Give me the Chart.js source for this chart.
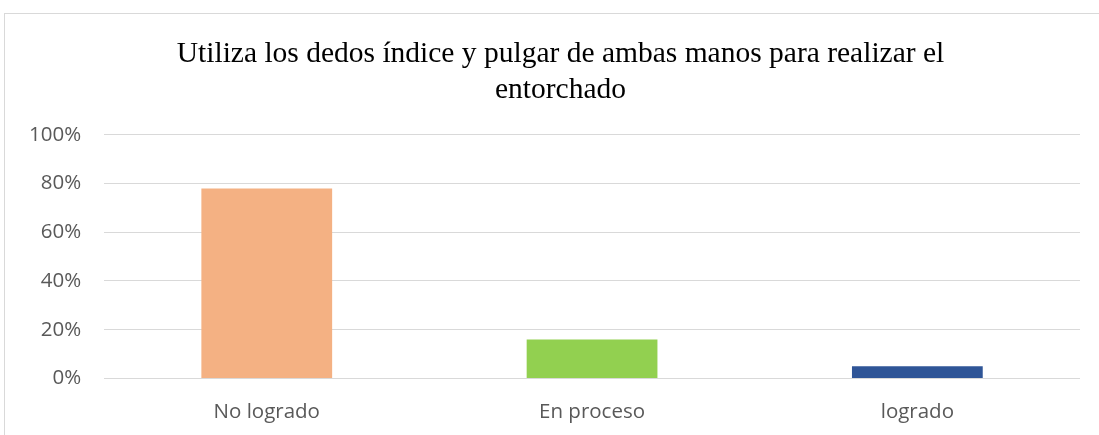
<!DOCTYPE html>
<html>
<head>
<meta charset="utf-8">
<script src="https://cdn.jsdelivr.net/npm/chart.js@4.4.0/dist/chart.umd.min.js"></script>
<style>
  body { margin: 0; background: #fff; overflow: hidden; width: 1099px; height: 435px; }
  .frame { position: absolute; left: 4px; top: 13px; width: 1112px; height: 440px; border: 1px solid #d9d9d9; }
  canvas { display: block; }
</style>
</head>
<body>
<div class="frame">
  <canvas id="bar-chart" width="1112" height="440"></canvas>
</div>
<script>
// datos
const categorias = ['No logrado', 'En proceso', 'logrado'];
const porcentajes = [78, 16, 5];
const colores = ['#F4B183', '#92D050', '#2F5597'];
const tituloLineas = ['Utiliza los dedos índice y pulgar de ambas manos para realizar el', 'entorchado'];

// corre un poco el titulo a la derecha, como en el original
const moverTitulo = {
  id: 'moverTitulo',
  afterLayout(chart) {
    if (chart.titleBlock) chart.titleBlock.left += 35;
  },
};

const ctx = document.getElementById('bar-chart');
new Chart(ctx, {
  type: 'bar',
  data: {
    labels: categorias,
    datasets: [{
      data: porcentajes,
      backgroundColor: colores,
      borderWidth: 0,
      barPercentage: 0.402,
      categoryPercentage: 1,
    }],
  },
  plugins: [moverTitulo],
  options: {
    responsive: false,
    animation: false,
    layout: { padding: { left: 1, right: 37, top: 0, bottom: 17 } },
    plugins: {
      legend: { display: false },
      tooltip: { enabled: false },
      title: {
        display: true,
        text: tituloLineas,
        color: '#000',
        font: { family: '"Liberation Serif", "Times New Roman", serif', size: 29.5, weight: 'normal', lineHeight: 1.2 },
        padding: { top: 23, bottom: 27 },
      },
    },
    scales: {
      x: {
        grid: { display: false },
        border: { display: false },
        ticks: { color: '#595959', padding: 13, font: { family: '"Open Sans", sans-serif', size: 20.5 } },
      },
      y: {
        min: 0,
        max: 100,
        ticks: {
          stepSize: 20,
          color: '#595959',
          padding: 23,
          font: { family: '"Open Sans", sans-serif', size: 20.5 },
          callback: (v) => v + '%',
        },
        grid: { color: '#d9d9d9', lineWidth: 1, drawTicks: false },
        border: { display: false },
      },
    },
  },
});
</script>
</body>
</html>
